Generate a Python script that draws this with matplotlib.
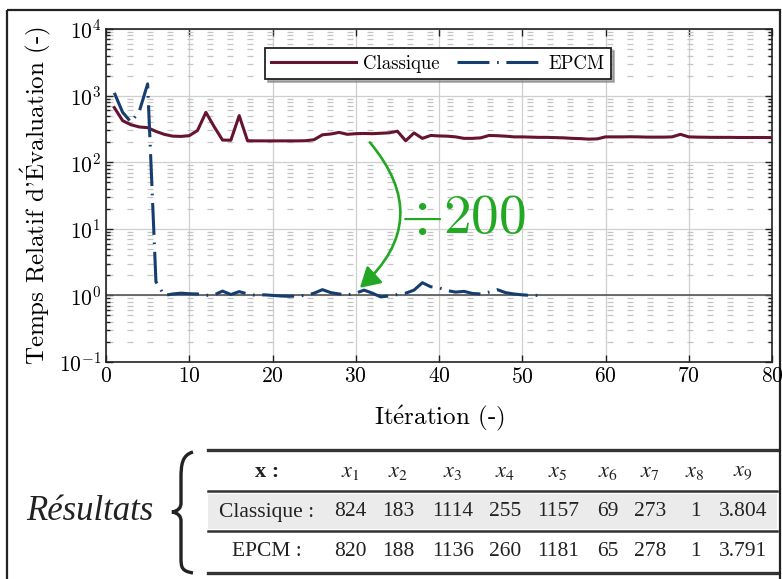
import numpy as np
import matplotlib
matplotlib.use("Agg")
import matplotlib.pyplot as plt
from matplotlib.path import Path
from matplotlib.patches import PathPatch, Rectangle
from matplotlib.ticker import LogLocator, NullLocator, NullFormatter

plt.rcParams['font.family'] = ['cmr10', 'DejaVu Serif']
plt.rcParams['mathtext.fontset'] = 'cm'
plt.rcParams['axes.formatter.use_mathtext'] = True
plt.rcParams['lines.scale_dashes'] = False

# data
iterations = np.arange(1, 81)
classique = [660, 420, 365, 338, 330, 290, 262, 246, 244, 250,
             300, 560, 340, 215, 214, 500, 210, 209, 209, 209,
             209, 209, 209, 210, 218, 258, 265, 280, 262, 268,
             270, 268, 272, 276, 292, 210, 275, 228, 252, 248,
             246, 240, 228, 228, 232, 252, 250, 246, 240, 240,
             238, 236, 236, 234, 232, 228, 226, 222, 224, 240,
             240, 240, 241, 240, 238, 238, 238, 240, 262, 240,
             238, 237, 236, 236, 236, 235, 235, 235, 235, 234]

iterations_epcm = np.arange(1, 53)
epcm = [1100, 560, 400, 580, 1500, 1.6, 1.0, 1.05, 1.08, 1.06,
        1.05, 1.0, 1.02, 1.16, 1.03, 1.14, 1.05, 1.0, 1.02, 1.0,
        0.98, 0.97, 0.98, 1.0, 1.08, 1.22, 1.1, 1.05, 1.02, 1.08,
        1.2, 1.08, 0.95, 0.98, 1.03, 1.08, 1.2, 1.55, 1.35, 1.3,
        1.18, 1.12, 1.15, 1.07, 1.05, 1.12, 1.22, 1.1, 1.05, 1.02,
        1.0, 1.0]

table_cols = ["x :", "$x_1$", "$x_2$", "$x_3$", "$x_4$", "$x_5$",
              "$x_6$", "$x_7$", "$x_8$", "$x_9$"]
table_classique = ["Classique :", "824", "183", "1114", "255", "1157",
                   "69", "273", "1", "3.804"]
table_epcm = ["EPCM :", "820", "188", "1136", "260", "1181",
              "65", "278", "1", "3.791"]

c_classique = '#66142e'
c_epcm = '#153d6f'
c_green = '#22a822'

W, H = 782, 579
fig = plt.figure(figsize=(W / 100, H / 100), dpi=100)

# overlay in pixel coordinates for frame, brace and table
ov = fig.add_axes([0, 0, 1, 1])
ov.set_xlim(0, W)
ov.set_ylim(H, 0)
ov.axis('off')
ov.add_patch(Rectangle((7, 10), 773, 620, fill=False, ec='#222222', lw=1.6))

ax = fig.add_axes([106 / W, 1 - 362 / H, 666 / W, 333 / H])
ax.plot(iterations, classique, color=c_classique, lw=2.2, label='Classique',
        zorder=4)
ax.plot(iterations_epcm, epcm, color=c_epcm, lw=2.2,
        ls=(0, (23, 5.5, 1.2, 5.5)), label='EPCM', zorder=4)

ax.set_yscale('log')
ax.set_xlim(0, 80)
ax.set_ylim(0.1, 1e4)
ax.set_xticks(np.arange(0, 81, 10))
ax.yaxis.set_major_locator(LogLocator(base=10, numticks=10))
ax.yaxis.set_minor_locator(LogLocator(base=10, subs=np.arange(2, 10), numticks=20))
ax.yaxis.set_minor_formatter(NullFormatter())
ax.xaxis.set_minor_locator(NullLocator())

ax.grid(True, which='major', color='#cfcfcf', lw=0.9, ls='-', zorder=0)
ax.grid(True, which='minor', axis='y', color='#c4c4c4', lw=0.9,
        ls=(13.7, (4.3, 10.1)), zorder=0)
ax.axhline(1, color='#555555', lw=1.2, zorder=2)
ax.set_axisbelow(True)

ax.tick_params(which='both', direction='in', top=True, right=True,
               labelsize=15.5, width=1.0, color='#222222')
ax.tick_params(which='major', length=5)
ax.tick_params(which='minor', length=3)
for s in ax.spines.values():
    s.set_linewidth(1.2)
    s.set_color('#222222')

ax.set_xlabel(r'It$\acute{\mathrm{e}}$ration (-)', fontsize=18, labelpad=12)
ax.set_ylabel(r"Temps Relatif d'$\acute{\mathrm{E}}$valuation (-)",
              fontsize=18, labelpad=4)

leg = ax.legend(loc='center', bbox_to_anchor=(0.4985, 0.896), ncol=2,
                fontsize=13.5, handlelength=4.5, handletextpad=0.4,
                columnspacing=0.9, fancybox=False, edgecolor='#222222',
                framealpha=1, borderpad=0.35, shadow={'color': '0.5', 'alpha': 0.6})
leg.get_frame().set_linewidth(1.3)

ax.annotate('', xy=(30.5, 1.3), xytext=(31.7, 198),
            arrowprops=dict(arrowstyle='-|>,head_length=0.6,head_width=0.35',
                            connectionstyle='arc3,rad=-0.48', color=c_green,
                            lw=1.9, mutation_scale=20, shrinkA=0, shrinkB=0),
            zorder=5)
ax.text(35.3, 14, r'$\div\mathrm{200}$', color=c_green, fontsize=40,
        ha='left', va='center', zorder=5)

# brace
brace = Path([(193, 452), (182, 455), (181, 465), (181, 478),
              (181, 492), (181, 500), (181, 503),
              (181, 508), (178, 511), (172, 512),
              (178, 513), (181, 516), (181, 521),
              (181, 530), (181, 540), (181, 558),
              (181, 568), (182, 571), (193, 573)],
             [Path.MOVETO, Path.CURVE4, Path.CURVE4, Path.CURVE4,
              Path.CURVE4, Path.CURVE4, Path.CURVE4,
              Path.CURVE4, Path.CURVE4, Path.CURVE4,
              Path.CURVE4, Path.CURVE4, Path.CURVE4,
              Path.CURVE4, Path.CURVE4, Path.CURVE4,
              Path.CURVE4, Path.CURVE4, Path.CURVE4])
ov.add_patch(PathPatch(brace, fill=False, lw=2.4, ec='#222222'))
ov.text(90, 512, 'Résultats', family='Liberation Serif', style='italic',
        fontsize=25, ha='center', va='center', color='#222222')

# table
col_x = [267, 350, 398, 453, 505, 558, 608, 650, 695, 743]
ov.add_patch(Rectangle((208, 494), 569, 35, color='#ebebeb', lw=0))
for y, lw in [(450, 2.4), (491, 1.8), (531, 1.8), (573, 2.4)]:
    ov.plot([208, 777], [y, y], color='#333333', lw=lw)
for x, h, a, b in zip(col_x, table_cols, table_classique, table_epcm):
    ov.text(x, 472, h, ha='center', va='center', fontsize=16,
            family='Liberation Serif', math_fontfamily='stix',
            weight='bold' if h == 'x :' else 'normal', color='#222222')
    ov.text(x, 512, a, ha='center', va='center', fontsize=15.5,
            family='Liberation Serif', color='#222222')
    ov.text(x, 552, b, ha='center', va='center', fontsize=15.5,
            family='Liberation Serif', color='#222222')

fig.savefig('out.png', dpi=100)
